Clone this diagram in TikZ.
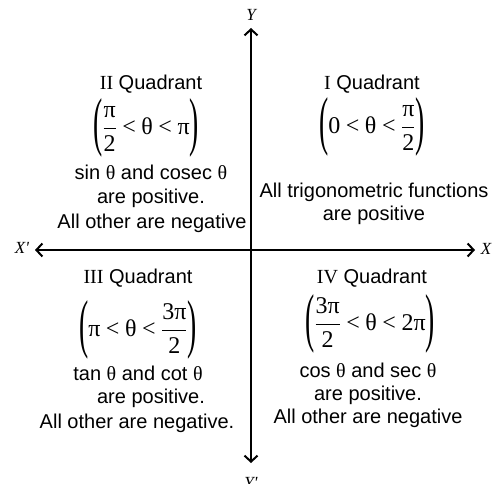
\documentclass[tikz,border=0pt]{standalone}
\usepackage{amsmath}
\usepackage{graphicx}
\usepackage{fontspec}
\setmainfont{Liberation Sans}
\newfontfamily\grfont{Liberation Serif}
\usetikzlibrary{arrows.meta}
\newcommand{\gr}[1]{\text{\grfont #1}}
\newcommand{\lss}{\mathrel{\gr{<}}}
\newcommand{\tallparen}[1]{\vcenter{\hbox{\scalebox{1.15}[2.7]{\grfont #1}}}}
\newcommand{\rng}[1]{$\displaystyle\thickmuskip=4mu\relax\tallparen{(}#1\tallparen{)}$}
\tikzset{
  axis/.style={line width=1.2pt,{Straight Barb[length=6pt,width=13pt,line width=2pt]}-{Straight Barb[length=6pt,width=13pt,line width=2pt]}},
  axlbl/.style={font=\grfont\itshape\fontsize{17}{20}\selectfont,inner sep=0pt},
  txt/.style={font=\fontsize{20}{24}\selectfont,anchor=base,inner sep=0pt},
  angrange/.style={font=\fontsize{24}{29}\selectfont,inner sep=0pt}
}
\begin{document}
\begin{tikzpicture}[x=1pt,y=-1pt]
\useasboundingbox (0,0) rectangle (493,484);
% axes
\coordinate (xl) at (35,250);
\coordinate (xr) at (475,250);
\coordinate (yt) at (251,28);
\coordinate (yb) at (251,463);
\draw[axis] (xl) -- (xr);
\draw[axis] (yb) -- (yt);
\node[axlbl] (xneg) at (22,248) {X'};
\node[axlbl] (xpos) at (486,249) {X};
\node[axlbl] (ypos) at (251,15) {Y};
\node[axlbl] (yneg) at (251,483) {Y'};
% quadrant I
\node[txt] (q1) at (372,90) {{\grfont I} Quadrant};
\node[angrange] (q1r) at (372,127) {\rng{\gr{0} \lss \gr{θ} \lss \frac{\gr{π}}{\gr{2}}}};
\node[txt] (q1a) at (374,198) {All trigonometric functions};
\node[txt] (q1b) at (374,221) {are positive};
% quadrant II
\node[txt] (q2) at (151,90) {{\grfont II} Quadrant};
\node[angrange] (q2r) at (146,128) {\rng{\frac{\gr{π}}{\gr{2}} \lss \gr{θ} \lss \gr{π}}};
\node[txt] (q2a) at (151,180) {sin {\grfont θ} and cosec {\grfont θ}};
\node[txt] (q2b) at (151,204) {are positive.};
\node[txt] (q2c) at (152,229) {All other are negative};
% quadrant III
\node[txt] (q3) at (138,283) {{\grfont III} Quadrant};
\node[angrange] (q3r) at (138,330) {\rng{\gr{π} \lss \gr{θ} \lss \frac{\gr{3π}}{\gr{2}}}};
\node[txt] (q3a) at (138,380) {tan {\grfont θ} and cot {\grfont θ}};
\node[txt] (q3b) at (151,403) {are positive.};
\node[txt] (q3c) at (137,428) {All other are negative.};
% quadrant IV
\node[txt] (q4) at (372,283) {{\grfont IV} Quadrant};
\node[angrange] (q4r) at (370,324) {\rng{\frac{\gr{3π}}{\gr{2}} \lss \gr{θ} \lss \gr{2π}}};
\node[txt] (q4a) at (368,377) {cos {\grfont θ} and sec {\grfont θ}};
\node[txt] (q4b) at (368,400) {are positive.};
\node[txt] (q4c) at (368,423) {All other are negative};
\end{tikzpicture}
\end{document}
